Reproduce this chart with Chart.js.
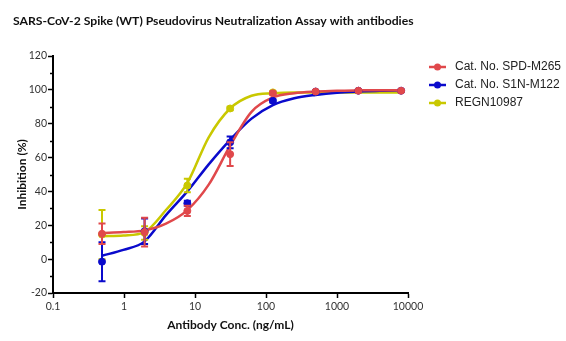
<!DOCTYPE html>
<html>
<head>
<meta charset="utf-8">
<script src="https://cdn.jsdelivr.net/npm/chart.js@4.4.1/dist/chart.umd.min.js"></script>
<style>
  html, body { margin: 0; padding: 0; background: #fff; }
  #wrap { width: 566px; height: 341px; position: relative; }
</style>
</head>
<body>
<div id="wrap"><canvas id="chart" width="566" height="341"></canvas></div>
<script>
// Measured points (ng/mL, % inhibition, SD)
const doseConc = [0.49, 1.95, 7.8, 31.25, 125, 500, 2000, 8000];
const redMean = [15, 16, 28.5, 62, 98, 99, 99.5, 99.5];
const redErr = [6, 8.5, 3, 7, 1, 0.5, 0.5, 0.5];
const blueMean = [-1.5, 16.5, 33, 69, 93.5, 99, 99.5, 99.5];
const blueErr = [11.5, 7.5, 1.5, 3.5, 1, 0.5, 0.5, 0.5];
const yellowMean = [14.5, 15.5, 43.5, 89, 98.5];
const yellowErr = [14.5, 4, 4, 1, 0.5];

// Fitted curves
const curveConc = [0.49, 0.98, 1.95, 3.9, 7.8, 15.6, 31.25, 62.5, 125, 250, 500, 1000, 2000, 4000, 8000];
const redCurve = [15.5, 16, 17, 21, 29, 44, 67, 87, 95.5, 98, 99, 99.5, 99.7, 99.8, 99.8];
const blueCurve = [2, 5.5, 10.5, 26, 40, 56, 70.5, 83, 91, 95, 97, 98.3, 99, 99.5, 99.7];
const yellowCurve = [13.5, 14, 16, 29, 45, 72, 89, 96.5, 98, 98.5, 98.5, 98.5, 98.5, 98.5, 98.5];

const seriesNames = ['Cat. No. SPD-M265', 'Cat. No. S1N-M122', 'REGN10987'];
const seriesColors = ['#e0484b', '#0a0acc', '#c9c800'];

const xTicks = [0.1, 1, 10, 100, 1000, 10000];
const yTicks = [-20, 0, 20, 40, 60, 80, 100, 120];

function pts(xs, ys) {
    return ys.map((y, i) => ({ x: xs[i], y: y }));
}

const means = [redMean, blueMean, yellowMean];
const errs = [redErr, blueErr, yellowErr];
const curves = [redCurve, blueCurve, yellowCurve];

const datasets = [];
// points first (drawn on top), one per series
for (let i = 0; i < 3; i++) {
    datasets.push({
        label: seriesNames[i],
        data: pts(doseConc, means[i]),
        errors: errs[i],
        showLine: false,
        pointRadius: 3.5,
        pointBackgroundColor: seriesColors[i],
        pointBorderColor: seriesColors[i],
        borderColor: seriesColors[i],
        order: i
    });
}
for (let i = 0; i < 3; i++) {
    datasets.push({
        label: seriesNames[i] + ' fit',
        data: pts(curveConc, curves[i]),
        borderColor: seriesColors[i],
        borderWidth: 2.5,
        pointRadius: 0,
        cubicInterpolationMode: 'monotone',
        fill: false,
        order: 3 + i
    });
}

// error bars with caps
const errorBars = {
    id: 'errorBars',
    afterDatasetDraw(chart, args) {
        const ds = chart.data.datasets[args.index];
        if (!ds.errors) return;
        const ctx = chart.ctx;
        const xs = chart.scales.x, ys = chart.scales.y;
        ctx.save();
        ctx.strokeStyle = ds.borderColor;
        ctx.lineWidth = 2;
        ds.data.forEach((p, i) => {
            const e = ds.errors[i];
            if (!e) return;
            const px = xs.getPixelForValue(p.x);
            const top = ys.getPixelForValue(p.y + e);
            const bot = ys.getPixelForValue(p.y - e);
            ctx.beginPath();
            ctx.moveTo(px, top); ctx.lineTo(px, bot);
            ctx.moveTo(px - 3.5, top); ctx.lineTo(px + 3.5, top);
            ctx.moveTo(px - 3.5, bot); ctx.lineTo(px + 3.5, bot);
            ctx.stroke();
        });
        ctx.restore();
    }
};

// title, minor y ticks and legend
const decorations = {
    id: 'decorations',
    afterDraw(chart) {
        const ctx = chart.ctx;
        const ys = chart.scales.y;
        const left = chart.chartArea.left;
        ctx.save();
        ctx.strokeStyle = '#000';
        ctx.lineWidth = 1.5;
        for (let v = -10; v < 120; v += 20) {
            const py = Math.round(ys.getPixelForValue(v)) + 0.5;
            ctx.beginPath();
            ctx.moveTo(left - 3, py); ctx.lineTo(left, py);
            ctx.stroke();
        }
        ctx.fillStyle = '#111';
        ctx.font = 'bold 12.2px Lato, sans-serif';
        ctx.textBaseline = 'middle';
        ctx.fillText('SARS-CoV-2 Spike (WT) Pseudovirus Neutralization Assay with antibodies', 13, 21);

        ctx.font = '12px "Liberation Sans", Arial, sans-serif';
        for (let i = 0; i < 3; i++) {
            const y = 67 + i * 18;
            ctx.strokeStyle = seriesColors[i];
            ctx.fillStyle = seriesColors[i];
            ctx.lineWidth = 2.5;
            ctx.beginPath();
            ctx.moveTo(429, y); ctx.lineTo(446, y);
            ctx.stroke();
            ctx.beginPath();
            ctx.arc(437.5, y, 3.5, 0, Math.PI * 2);
            ctx.fill();
            ctx.fillStyle = '#222';
            ctx.fillText(seriesNames[i], 455, y);
        }
        ctx.restore();
    }
};

const axisFont = { family: 'Lato, sans-serif', size: 10.5 };
const titleFont = { family: 'Lato, sans-serif', size: 12, weight: 'bold' };

new Chart(document.getElementById('chart'), {
    type: 'line',
    data: { datasets: datasets },
    options: {
        responsive: false,
        animation: false,
        layout: { padding: { left: 0, right: 158, top: 56, bottom: 0 } },
        plugins: {
            legend: { display: false },
            tooltip: { enabled: false }
        },
        scales: {
            x: {
                type: 'logarithmic',
                min: 0.1,
                max: 10000,
                afterBuildTicks: s => { s.ticks = xTicks.map(v => ({ value: v })); },
                afterFit: s => { s.height = 48; },
                ticks: {
                    color: '#333',
                    font: axisFont,
                    padding: 2,
                    maxRotation: 0,
                    callback: v => String(v)
                },
                grid: { drawOnChartArea: false, tickLength: 5, tickWidth: 1.5, tickColor: '#000' },
                border: { color: '#000', width: 2 },
                title: {
                    display: true,
                    text: 'Antibody Conc. (ng/mL)',
                    color: '#111',
                    font: titleFont,
                    padding: { top: 0, bottom: 9 }
                }
            },
            y: {
                min: -20,
                max: 120,
                afterBuildTicks: s => { s.ticks = yTicks.map(v => ({ value: v })); },
                afterFit: s => { s.width = 53; },
                ticks: { color: '#333', font: axisFont, padding: 1 },
                grid: { drawOnChartArea: false, tickLength: 5, tickWidth: 1.5, tickColor: '#000' },
                border: { color: '#000', width: 2 },
                title: {
                    display: true,
                    text: 'Inhibition (%)',
                    color: '#111',
                    font: titleFont,
                    padding: { top: 15, bottom: 0 }
                }
            }
        }
    },
    plugins: [errorBars, decorations]
});
</script>
</body>
</html>
